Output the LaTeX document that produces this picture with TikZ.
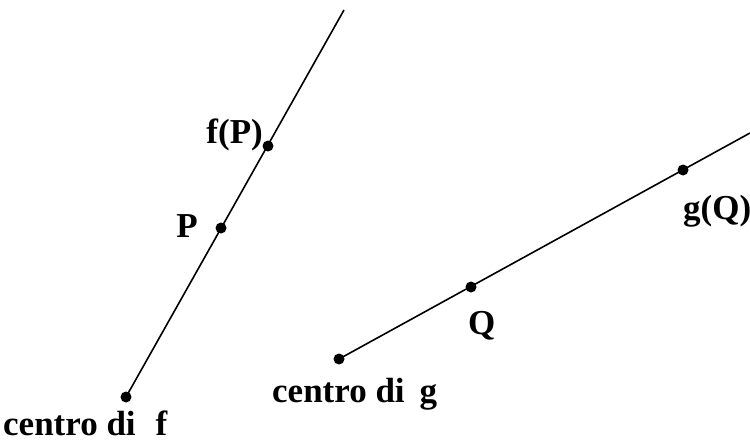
\documentclass[tikz,border=0pt]{standalone}
\usepackage{fontspec}
\setmainfont{Liberation Serif}
\begin{document}
\begin{tikzpicture}[x=1pt,y=-1pt,
  dot/.style={circle,fill=black,inner sep=0pt,minimum size=11pt},
  lbl/.style={inner sep=0pt,font=\fontsize{35}{40}\selectfont\bfseries},
  ln/.style={line width=1.6pt}]
\useasboundingbox (0,0) rectangle (750,442);
% line f
\coordinate (ftop) at (344,10);
\coordinate (cf) at (126,397);
\coordinate (fp) at (268,146);
\coordinate (p) at (221,228);
\draw[ln] (cf) -- (ftop);
\node[dot] at (cf) {};
\node[dot] at (fp) {};
\node[dot] at (p) {};
% line g
\coordinate (cg) at (339,359);
\coordinate (gend) at (750,133);
\coordinate (q) at (471,287);
\coordinate (gq) at (683,170);
\draw[ln] (cg) -- (gend);
\node[dot] at (cg) {};
\node[dot] at (q) {};
\node[dot] at (gq) {};
% labels
\node[lbl,anchor=base east] (lfp) at (263,143) {f(P)};
\node[lbl,anchor=base east] (lp) at (198,237) {P};
\node[lbl,anchor=base west] (lq) at (468,334) {Q};
\node[lbl,anchor=base west] (lgq) at (683,219) {g(Q)};
\node[lbl,anchor=base west] (lcg) at (272,402) {centro di\hspace{15pt}g};
\node[lbl,anchor=base west] (lcf) at (3,435) {centro di\hspace{20pt}f};
\end{tikzpicture}
\end{document}
